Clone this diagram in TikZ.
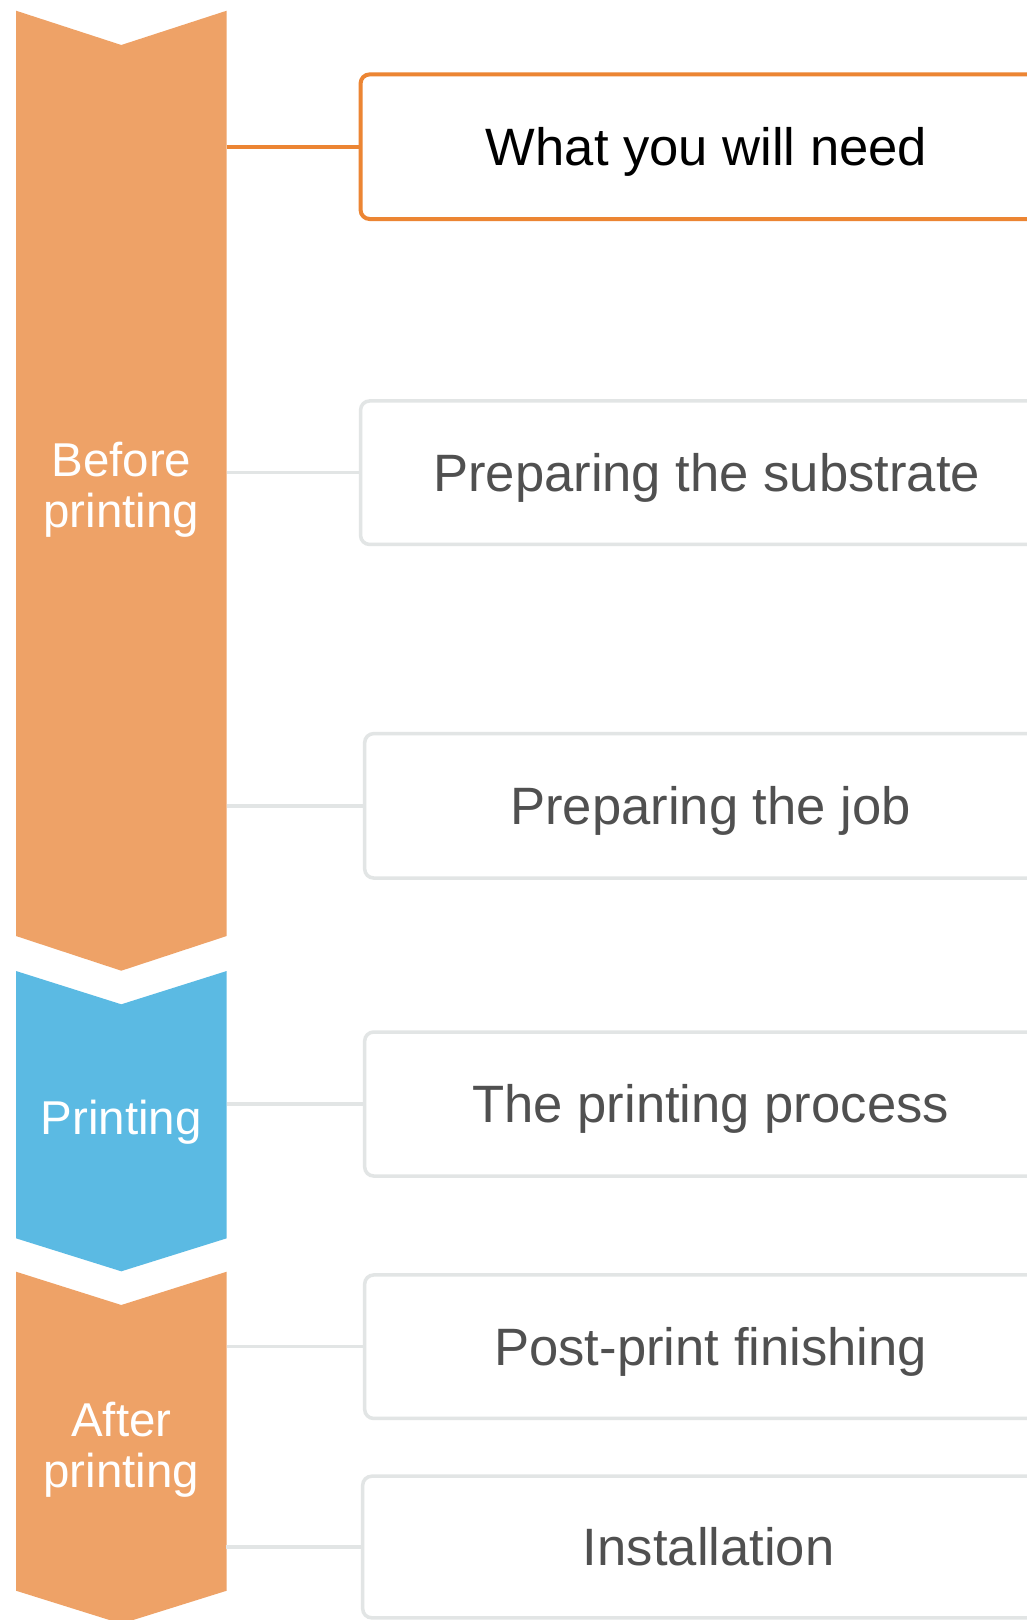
\documentclass[tikz,border=0pt]{standalone}
\usepackage{fontspec}
\setmainfont{Liberation Sans}
\definecolor{chevorange}{HTML}{EEA267}
\definecolor{chevblue}{HTML}{5BBAE3}
\definecolor{linkorange}{HTML}{EC8533}
\definecolor{boxgray}{HTML}{E2E5E5}
\definecolor{textgray}{HTML}{505050}
\tikzset{
  stepbox/.style={draw=boxgray, line width=3.5pt, rounded corners=9pt, fill=white,
    minimum width=692pt, anchor=west, outer sep=0pt, inner sep=0pt,
    text height=37.7pt, text depth=0pt, text=textgray,
    font=\fontsize{52.6}{60}\selectfont},
  firstbox/.style={stepbox, draw=linkorange, line width=4pt, text=black},
  graylink/.style={draw=boxgray, line width=3.5pt},
  orangelink/.style={draw=linkorange, line width=4pt},
  chevlabel/.style={text=white, anchor=base, inner sep=0pt,
    font=\fontsize{47.5}{50}\selectfont},
}
\begin{document}
\begin{tikzpicture}[x=1pt,y=-1pt]
\useasboundingbox (0,0) rectangle (1027,1620);
\clip (0,0) rectangle (1027,1620);
\fill[white] (0,0) rectangle (1027,1620);
% chevrons
\fill[chevorange] (16,10.7) -- (121.3,45) -- (226.7,10.7) -- (226.7,936) -- (121.3,970.7) -- (16,936) -- cycle;
\fill[chevblue] (16,971) -- (121.3,1004.3) -- (226.7,971) -- (226.7,1238.3) -- (121.3,1271.3) -- (16,1238.3) -- cycle;
\fill[chevorange] (16,1271.7) -- (121.3,1305) -- (226.7,1271.7) -- (226.7,1590.7) -- (121.3,1623.7) -- (16,1590.7) -- cycle;
% chevron labels
\node[chevlabel] (bef1) at (121.3,476.7) {Before};
\node[chevlabel] (bef2) at (121.3,527.3) {printing};
\node[chevlabel] (prn) at (121.3,1134) {Printing};
\node[chevlabel] (aft1) at (121.3,1436.3) {After};
\node[chevlabel] (aft2) at (121.3,1487.3) {printing};
% boxes
\node[firstbox, minimum height=144.6pt] (b1) at (360.6,146.7) {What you will need};
\node[stepbox, minimum height=143.5pt] (b2) at (360.6,472.7) {Preparing the substrate};
\node[stepbox, minimum height=144.4pt] (b3) at (364.7,805.8) {Preparing the job};
\node[stepbox, minimum height=144pt] (b4) at (364.7,1104) {The printing process};
\node[stepbox, minimum height=143.5pt] (b5) at (364.7,1346.7) {Post-print finishing};
\node[stepbox, minimum height=141.6pt] (b6) at (362.7,1547) {Installation};
% attachment points on chevron edge
\coordinate (c1) at (226.7,146.7);
\coordinate (c2) at (226.7,472.7);
\coordinate (c3) at (226.7,805.8);
\coordinate (c4) at (226.7,1104);
\coordinate (c5) at (226.7,1346.7);
\coordinate (c6) at (225.7,1547);
% connectors
\draw[orangelink] (c1) -- (b1.west);
\draw[graylink] (c2) -- (b2.west);
\draw[graylink] (c3) -- (b3.west);
\draw[graylink] (c4) -- (b4.west);
\draw[graylink] (c5) -- (b5.west);
\draw[graylink] (c6) -- (b6.west);
\end{tikzpicture}
\end{document}
